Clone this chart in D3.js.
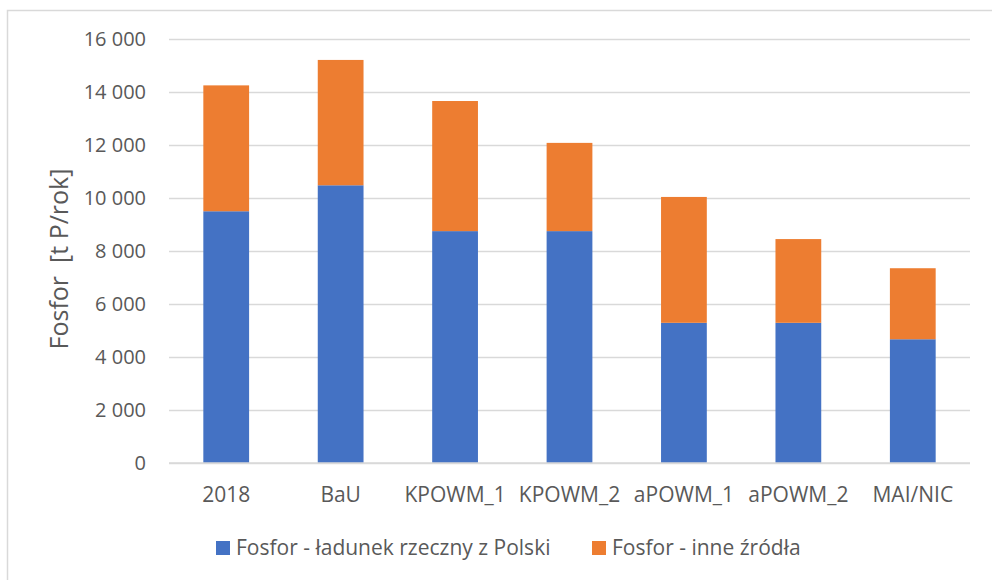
<!DOCTYPE html>
<html>
<head>
<meta charset="utf-8">
<script src="https://cdn.jsdelivr.net/npm/d3@7"></script>
<style>
  html, body { margin: 0; padding: 0; background: #fff; }
  svg { display: block; }
  text { font-family: "Open Sans", "Liberation Sans", sans-serif; fill: #595959; }
</style>
</head>
<body>
<svg id="chart" width="992" height="580"></svg>
<script>
const categories = ["2018", "BaU", "KPOWM_1", "KPOWM_2", "aPOWM_1", "aPOWM_2", "MAI/NIC"];
const seriesNames = ["Fosfor - ładunek rzeczny z Polski", "Fosfor - inne źródła"];
const riverLoad = [9500, 10480, 8750, 8750, 5290, 5290, 4670];
const otherSources = [4750, 4730, 4910, 3330, 4750, 3160, 2680];
const yTicks = [0, 2000, 4000, 6000, 8000, 10000, 12000, 14000, 16000];
const colors = ["#4472C4", "#ED7D31"];

const svg = d3.select("#chart");
const W = 992, H = 580;
const margin = { left: 169, right: 22, top: 39, bottom: 117 };

// chart border
svg.append("rect")
  .attr("x", 7.5).attr("y", 10.5)
  .attr("width", 1000).attr("height", 600)
  .attr("fill", "none").attr("stroke", "#D9D9D9").attr("stroke-width", 1.5);

const x = d3.scaleBand().domain(categories)
  .range([margin.left, W - margin.right]).paddingInner(0.6).paddingOuter(0.3);
const y = d3.scaleLinear().domain([0, 16000]).range([H - margin.bottom, margin.top]);

// gridlines
const yAxis = d3.axisLeft(y).tickValues(yTicks)
  .tickSize(-(W - margin.right - margin.left))
  .tickFormat(d => d3.format(",")(d).replace(/,/g, " "))
  .tickPadding(23);
const gy = svg.append("g").attr("transform", `translate(${margin.left},0)`).call(yAxis);
gy.select(".domain").remove();
gy.selectAll(".tick line").attr("stroke", "#D9D9D9").attr("stroke-width", 1.3);
gy.selectAll(".tick text").attr("font-size", 20).attr("fill", "#595959")
  .style("font-family", '"Open Sans", sans-serif');

// stacked data
const data = categories.map((c, i) => ({ cat: c, a: riverLoad[i], b: otherSources[i] }));
const stack = d3.stack().keys(["a", "b"]);
const stacked = stack(data);

svg.append("g").selectAll("g").data(stacked).join("g")
  .attr("fill", (d, i) => colors[i])
  .selectAll("rect").data(d => d).join("rect")
  .attr("x", d => x(d.data.cat))
  .attr("width", x.bandwidth())
  .attr("y", d => y(d[1]))
  .attr("height", d => y(d[0]) - y(d[1]));

// x axis
const xAxis = d3.axisBottom(x).tickSize(0).tickPadding(24);
const gx = svg.append("g").attr("transform", `translate(0,${H - margin.bottom})`).call(xAxis);
gx.select(".domain").attr("stroke", "#D9D9D9").attr("stroke-width", 1.3)
  .attr("d", `M${margin.left},0H${W - margin.right}`);
gx.selectAll(".tick text").attr("font-size", 21).attr("fill", "#595959")
  .style("font-family", '"Open Sans", sans-serif');

// y axis title
svg.append("text")
  .attr("transform", `translate(68,259) rotate(-90)`)
  .attr("text-anchor", "middle")
  .attr("font-size", 25)
  .attr("xml:space", "preserve")
  .text("Fosfor  [t P/rok]");

// legend
const legendX = [216, 592];
const lg = svg.append("g");
seriesNames.forEach((name, i) => {
  lg.append("rect").attr("x", legendX[i]).attr("y", 541).attr("width", 14).attr("height", 14).attr("fill", colors[i]);
  lg.append("text").attr("x", legendX[i] + 20).attr("y", 555).attr("font-size", 21).text(name);
});
</script>
</body>
</html>
